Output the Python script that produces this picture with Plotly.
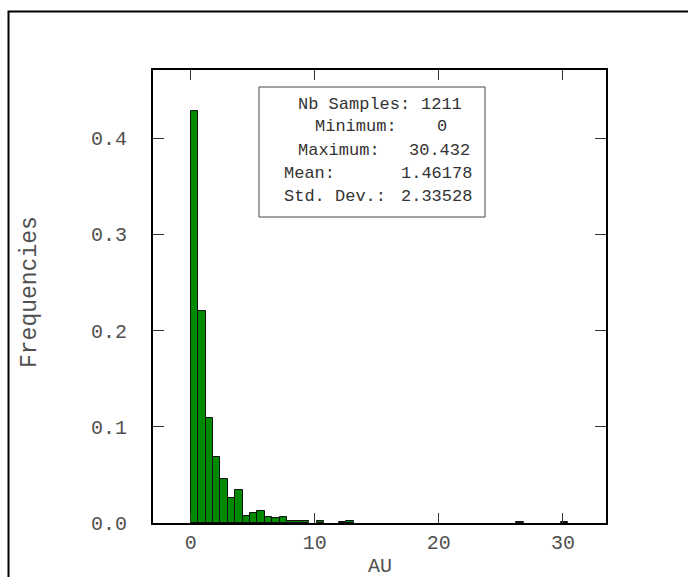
import numpy as np
import plotly.graph_objects as go

# ---------------- data ----------------
n_samples = 1211
x_min = 0.0
x_max = 30.432
n_bins = 51
# relative frequency per bin, bin index 0..50
freqs = [0.428, 0.220, 0.109, 0.0685, 0.0454, 0.0264, 0.0347, 0.0074, 0.0107, 0.0124,
         0.0066, 0.0050, 0.0058, 0.0025, 0.0017, 0.0025, 0.0, 0.0017, 0.0, 0.0,
         0.0008, 0.0017, 0.0, 0.0, 0.0, 0.0, 0.0, 0.0, 0.0, 0.0,
         0.0, 0.0, 0.0, 0.0, 0.0, 0.0, 0.0, 0.0, 0.0, 0.0,
         0.0, 0.0, 0.0, 0.0, 0.0008, 0.0, 0.0, 0.0, 0.0, 0.0,
         0.0008]
x_ticks = [0, 10, 20, 30]
y_ticks = [0.0, 0.1, 0.2, 0.3, 0.4]
y_ticklabels = ["0.0", "0.1", "0.2", "0.3", "0.4"]
stat_labels = ["Nb Samples:", "Minimum:", "Maximum:", "Mean:", "Std. Dev.:"]
stat_values = ["1211", "0", "30.432", "1.46178", "2.33528"]

# ---------------- layout helpers ----------------
W, H = 688, 577
L, R, T, B = 153, 82, 70, 54
PW, PH = W - L - R, H - T - B


def px(x):
    return (x - L) / PW


def py(y):
    return (T + PH - y) / PH


bw = (x_max - x_min) / n_bins
centers = [x_min + bw * (i + 0.5) for i in range(n_bins)]
xs = [c for c, f in zip(centers, freqs) if f > 0]
ys = [f for f in freqs if f > 0]

FONT = "Liberation Mono, Courier New, monospace"
TXT = "#505050"

fig = go.Figure()
fig.add_trace(go.Bar(
    x=xs, y=ys, width=bw,
    marker=dict(color="#008a00", line=dict(color="#111111", width=1)),
    showlegend=False, hoverinfo="x+y",
))

pad = 0.1 * (x_max - x_min)
fig.update_layout(
    width=W, height=H,
    margin=dict(l=L, r=R, t=T, b=B, pad=0),
    paper_bgcolor="white", plot_bgcolor="white",
    bargap=0,
    xaxis=dict(
        range=[x_min - pad, x_max + pad],
        tickvals=x_ticks, ticktext=[str(t) for t in x_ticks],
        ticks="inside", ticklen=10, tickwidth=1, tickcolor="#333333",
        showline=True, linecolor="black", linewidth=2, mirror="ticks",
        showgrid=False, zeroline=False,
        tickfont=dict(family=FONT, size=20, color=TXT),
        ticklabelstandoff=0,
    ),
    yaxis=dict(
        range=[0, 1.1 * max(freqs)],
        tickvals=y_ticks, ticktext=y_ticklabels,
        ticks="inside", ticklen=11, tickwidth=1, tickcolor="#333333",
        showline=True, linecolor="black", linewidth=2, mirror="ticks",
        showgrid=False, zeroline=False,
        tickfont=dict(family=FONT, size=20, color=TXT),
        ticklabelstandoff=20,
    ),
)

annotations = []
# axis titles
annotations.append(dict(text="AU", xref="paper", yref="paper", x=px(379.5), y=py(566),
                        xanchor="center", yanchor="middle", showarrow=False,
                        font=dict(family=FONT, size=20, color=TXT)))
annotations.append(dict(text="Frequencies", xref="paper", yref="paper", x=px(30), y=py(292),
                        xanchor="center", yanchor="middle", showarrow=False, textangle=-90,
                        font=dict(family=FONT, size=23, color=TXT)))

# stats box text
label_x = [297, 314, 297, 283, 283]
value_x = [420, 436, 408, 400, 400]
line_y = [104, 127, 150, 173, 196]
for lab, val, lx, vx, ly in zip(stat_labels, stat_values, label_x, value_x, line_y):
    annotations.append(dict(text=lab, xref="paper", yref="paper", x=px(lx), y=py(ly),
                            xanchor="left", yanchor="middle", showarrow=False, borderpad=0,
                            font=dict(family=FONT, size=17, color="#333333")))
    annotations.append(dict(text=val, xref="paper", yref="paper", x=px(vx), y=py(ly),
                            xanchor="left", yanchor="middle", showarrow=False, borderpad=0,
                            font=dict(family=FONT, size=17, color="#333333")))
fig.update_layout(annotations=annotations)

shapes = [
    # stats box
    dict(type="rect", xref="paper", yref="paper", x0=px(259), x1=px(485), y0=py(217), y1=py(87),
         line=dict(color="#444444", width=1), fillcolor="rgba(0,0,0,0)", layer="above"),
    # outer frame (extends past the window)
    dict(type="rect", xref="paper", yref="paper", x0=px(8.5), x1=px(720), y0=py(640), y1=py(11.5),
         line=dict(color="black", width=2), fillcolor="rgba(0,0,0,0)", layer="above"),
]
fig.update_layout(shapes=shapes)

fig.write_html("out.html")
